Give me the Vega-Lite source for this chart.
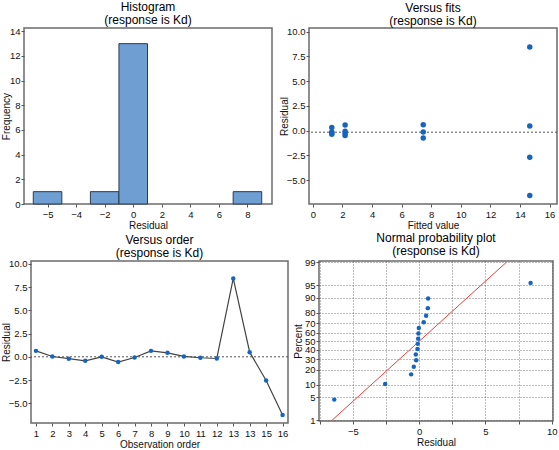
{
  "$schema": "https://vega.github.io/schema/vega-lite/v6.json",
  "background": "white",
  "padding": {"left": 0, "top": 0, "right": 0, "bottom": 0},
  "datasets": {
    "hist": [
      {"bin_start": -7, "bin_end": -5, "count": 1},
      {"bin_start": -3, "bin_end": -1, "count": 1},
      {"bin_start": -1, "bin_end": 1, "count": 13},
      {"bin_start": 7, "bin_end": 9, "count": 1}
    ],
    "fits": [
      {"fitted": 1.28, "resid": 0.33},
      {"fitted": 1.28, "resid": -0.12},
      {"fitted": 1.28, "resid": -0.2},
      {"fitted": 1.28, "resid": -0.37},
      {"fitted": 2.18, "resid": 0.57},
      {"fitted": 2.18, "resid": -0.05},
      {"fitted": 2.18, "resid": -0.27},
      {"fitted": 2.18, "resid": -0.48},
      {"fitted": 7.46, "resid": 0.6},
      {"fitted": 7.46, "resid": -0.13},
      {"fitted": 7.46, "resid": -0.73},
      {"fitted": 14.66, "resid": 8.45},
      {"fitted": 14.66, "resid": 0.47},
      {"fitted": 14.66, "resid": -2.68},
      {"fitted": 14.66, "resid": -6.55}
    ],
    "fits_zero": [{"resid": -0.15}],
    "order": [
      {"obs": 1, "resid": 0.64},
      {"obs": 2, "resid": 0.03},
      {"obs": 3, "resid": -0.2},
      {"obs": 4, "resid": -0.43},
      {"obs": 5, "resid": 0.0},
      {"obs": 6, "resid": -0.57},
      {"obs": 7, "resid": -0.07},
      {"obs": 8, "resid": 0.64},
      {"obs": 9, "resid": 0.43},
      {"obs": 10, "resid": 0.04},
      {"obs": 11, "resid": -0.1},
      {"obs": 12, "resid": -0.18},
      {"obs": 13, "resid": 8.44},
      {"obs": 14, "resid": 0.5},
      {"obs": 15, "resid": -2.55},
      {"obs": 16, "resid": -6.28}
    ],
    "order_zero": [{"resid": 0}],
    "normal": [
      {"resid": -6.4, "z": -1.72},
      {"resid": -2.56, "z": -1.261},
      {"resid": -0.6, "z": -0.976},
      {"resid": -0.4, "z": -0.753},
      {"resid": -0.22, "z": -0.563},
      {"resid": -0.25, "z": -0.392},
      {"resid": -0.12, "z": -0.231},
      {"resid": -0.1, "z": -0.077},
      {"resid": -0.07, "z": 0.077},
      {"resid": -0.05, "z": 0.231},
      {"resid": -0.02, "z": 0.392},
      {"resid": 0.35, "z": 0.563},
      {"resid": 0.53, "z": 0.753},
      {"resid": 0.66, "z": 0.976},
      {"resid": 0.68, "z": 1.261},
      {"resid": 8.41, "z": 1.72}
    ],
    "normal_fit": [
      {"resid": -6.56, "z": -2.326},
      {"resid": 6.58, "z": 2.326}
    ]
  },
  "spacing": 0,
  "vconcat": [
    {
      "bounds": "flush",
      "spacing": 0,
      "hconcat": [
        {
          "width": 248,
          "height": 176,
          "title": {"text": ["Histogram", "(response is Kd)"]},
          "data": {"name": "hist"},
          "mark": {"type": "bar", "fill": "#6f9ed3", "stroke": "#2e3b4c", "strokeWidth": 1},
          "encoding": {
            "x": {
              "field": "bin_start", "type": "quantitative", "title": "Residual",
              "scale": {"domain": [-7.65, 9.72], "nice": false, "zero": false},
              "axis": {"values": [-6, -4, -2, 0, 2, 4, 6, 8], "titleY": 16, "labelExpr": "datum.value == -6 ? '−5' : datum.label"}
            },
            "x2": {"field": "bin_end"},
            "y": {
              "field": "count", "type": "quantitative", "title": "Frequency",
              "scale": {"domain": [0, 14.27], "nice": false},
              "axis": {"values": [0, 2, 4, 6, 8, 10, 12, 14], "titleX": -13}
            },
            "y2": {"datum": 0}
          }
        },
        {
          "width": 37,
          "height": 176,
          "view": {"stroke": null},
          "data": {"values": [{}]},
          "mark": {"type": "point", "opacity": 0}
        },
        {
          "width": 248,
          "height": 176,
          "title": {"text": ["Versus fits", "(response is Kd)"]},
          "layer": [
            {
              "data": {"name": "fits_zero"},
              "mark": {"type": "rule", "color": "#555", "strokeDash": [2, 2], "strokeWidth": 1},
              "encoding": {
                "y": {
                  "field": "resid", "type": "quantitative", "title": "Residual",
                  "scale": {"domain": [-7.4, 10.37], "nice": false, "zero": false},
                  "axis": {"values": [-5, -2.5, 0, 2.5, 5, 7.5, 10], "format": ".1f", "titleX": -19.5, "labelOverlap": false}
                }
              }
            },
            {
              "data": {"name": "fits"},
              "mark": {"type": "circle", "color": "#1565c0", "opacity": 1, "size": 30},
              "encoding": {
                "x": {
                  "field": "fitted", "type": "quantitative", "title": "Fitted value",
                  "scale": {"domain": [-0.26, 16.5], "nice": false, "zero": false},
                  "axis": {"values": [0, 2, 4, 6, 8, 10, 12, 14, 16], "titleY": 16, "labelOverlap": false}
                },
                "y": {
                  "field": "resid", "type": "quantitative", "title": "Residual",
                  "scale": {"domain": [-7.4, 10.37], "nice": false, "zero": false},
                  "axis": {"values": [-5, -2.5, 0, 2.5, 5, 7.5, 10], "format": ".1f", "titleX": -19.5, "labelOverlap": false}
                }
              }
            }
          ]
        }
      ]
    },
    {
      "bounds": "flush",
      "spacing": 0,
      "hconcat": [
        {
          "width": 6.2,
          "height": 162,
          "view": {"stroke": null},
          "data": {"values": [{}]},
          "mark": {"type": "point", "opacity": 0}
        },
        {
          "width": 257,
          "height": 162,
          "title": {"text": ["Versus order", "(response is Kd)"]},
          "layer": [
            {
              "data": {"name": "order_zero"},
              "mark": {"type": "rule", "color": "#555", "strokeDash": [2, 2], "strokeWidth": 1},
              "encoding": {
                "y": {
                  "field": "resid", "type": "quantitative", "title": "Residual",
                  "scale": {"domain": [-7.13, 10.32], "nice": false, "zero": false},
                  "axis": {"values": [-5, -2.5, 0, 2.5, 5, 7.5, 10], "format": ".1f", "titleX": -19.5, "labelOverlap": false}
                }
              }
            },
            {
              "data": {"name": "order"},
              "mark": {"type": "line", "color": "#444", "strokeWidth": 1.2},
              "encoding": {
                "x": {
                  "field": "obs", "type": "quantitative", "title": "Observation order",
                  "scale": {"domain": [0.7, 16.33], "nice": false, "zero": false},
                  "axis": {"values": [1, 2, 3, 4, 5, 6, 7, 8, 9, 10, 11, 12, 13, 14, 15, 16], "titleY": 16, "labelOverlap": false, "labelExpr": "datum.value == 14 ? '13' : datum.label"}
                },
                "y": {
                  "field": "resid", "type": "quantitative", "title": "Residual",
                  "scale": {"domain": [-7.13, 10.32], "nice": false, "zero": false},
                  "axis": {"values": [-5, -2.5, 0, 2.5, 5, 7.5, 10], "format": ".1f", "titleX": -19.5, "labelOverlap": false}
                }
              }
            },
            {
              "data": {"name": "order"},
              "mark": {"type": "circle", "color": "#1565c0", "opacity": 1, "size": 20},
              "encoding": {
                "x": {
                  "field": "obs", "type": "quantitative", "title": "Observation order",
                  "scale": {"domain": [0.7, 16.33], "nice": false, "zero": false},
                  "axis": {"values": [1, 2, 3, 4, 5, 6, 7, 8, 9, 10, 11, 12, 13, 14, 15, 16], "titleY": 16, "labelOverlap": false, "labelExpr": "datum.value == 14 ? '13' : datum.label"}
                },
                "y": {
                  "field": "resid", "type": "quantitative", "title": "Residual",
                  "scale": {"domain": [-7.13, 10.32], "nice": false, "zero": false},
                  "axis": {"values": [-5, -2.5, 0, 2.5, 5, 7.5, 10], "format": ".1f", "titleX": -19.5, "labelOverlap": false}
                }
              }
            }
          ]
        },
        {
          "width": 31,
          "height": 162,
          "view": {"stroke": null},
          "data": {"values": [{}]},
          "mark": {"type": "point", "opacity": 0}
        },
        {
          "width": 234,
          "height": 160,
          "title": {"text": ["Normal probability plot", "(response is Kd)"]},
          "layer": [
            {
              "data": {"name": "normal_fit"},
              "mark": {"type": "line", "color": "#e8403c", "strokeWidth": 1, "clip": true},
              "encoding": {
                "x": {
                  "field": "resid", "type": "quantitative", "title": "Residual",
                  "scale": {"domain": [-7.55, 10.1], "nice": false, "zero": false},
                  "axis": {
                    "values": [-7.5, -5, -2.5, 0, 2.5, 5, 7.5, 10],
                    "titleY": 16,
                    "labelOverlap": false,
                    "labelExpr": "datum.value % 5 == 0 ? datum.label : ''",
                    "grid": true, "gridColor": "#555", "gridDash": [1, 2], "gridWidth": 0.8
                  }
                },
                "y": {
                  "field": "z", "type": "quantitative", "title": "Percent",
                  "scale": {"domain": [-2.35, 2.365], "nice": false, "zero": false},
                  "axis": {
                    "values": [-2.326, -1.645, -1.2816, -0.8416, -0.5244, -0.2533, 0, 0.2533, 0.5244, 0.8416, 1.2816, 1.645, 2.326],
                    "titleX": -16,
                    "labelOverlap": false,
                    "labelExpr": "format(round(cumulativeNormal(datum.value) * 100), 'd')",
                    "grid": true, "gridColor": "#555", "gridDash": [1, 2], "gridWidth": 0.8
                  }
                }
              }
            },
            {
              "data": {"name": "normal"},
              "mark": {"type": "circle", "color": "#1565c0", "opacity": 1, "size": 20},
              "encoding": {
                "x": {
                  "field": "resid", "type": "quantitative", "title": "Residual",
                  "scale": {"domain": [-7.55, 10.1], "nice": false, "zero": false},
                  "axis": {
                    "values": [-7.5, -5, -2.5, 0, 2.5, 5, 7.5, 10],
                    "titleY": 16,
                    "labelOverlap": false,
                    "labelExpr": "datum.value % 5 == 0 ? datum.label : ''",
                    "grid": true, "gridColor": "#555", "gridDash": [1, 2], "gridWidth": 0.8
                  }
                },
                "y": {
                  "field": "z", "type": "quantitative", "title": "Percent",
                  "scale": {"domain": [-2.35, 2.365], "nice": false, "zero": false},
                  "axis": {
                    "values": [-2.326, -1.645, -1.2816, -0.8416, -0.5244, -0.2533, 0, 0.2533, 0.5244, 0.8416, 1.2816, 1.645, 2.326],
                    "titleX": -16,
                    "labelOverlap": false,
                    "labelExpr": "format(round(cumulativeNormal(datum.value) * 100), 'd')",
                    "grid": true, "gridColor": "#555", "gridDash": [1, 2], "gridWidth": 0.8
                  }
                }
              }
            }
          ]
        }
      ]
    }
  ],
  "config": {
    "font": "Liberation Sans",
    "view": {"stroke": "#6b6b6b", "strokeWidth": 1.5},
    "title": {"fontSize": 12, "fontWeight": "normal", "color": "#000", "lineHeight": 13, "offset": -1, "anchor": "middle"},
    "axis": {
      "domain": false,
      "grid": false,
      "tickColor": "#555",
      "tickSize": 3,
      "labelFontSize": 9.5,
      "labelColor": "#111",
      "labelPadding": 1,
      "labelOverlap": false,
      "labelFlush": false,
      "titleFontSize": 10,
      "titleFontWeight": "normal",
      "titleColor": "#111",
      "titlePadding": 0
    },
    "axisX": {"labelPadding": 2}
  }
}
